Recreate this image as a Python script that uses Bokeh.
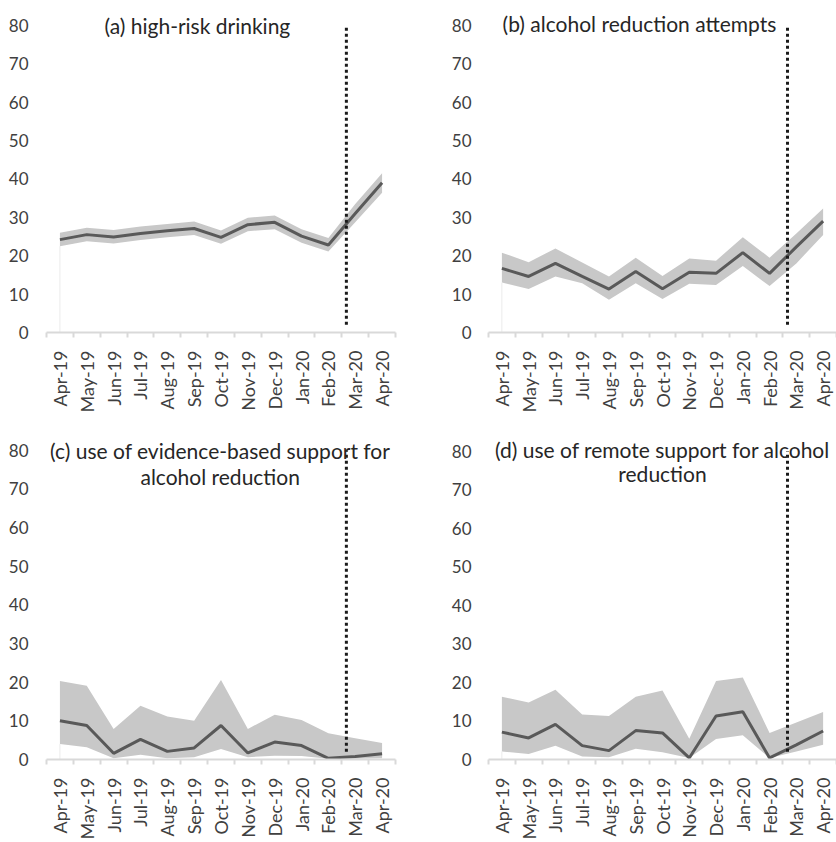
import math
from bokeh.plotting import figure
from bokeh.models import FixedTicker, Label, Range1d
from bokeh.layouts import column, row
from bokeh.embed import file_html
from bokeh.resources import INLINE

months = ["Apr-19", "May-19", "Jun-19", "Jul-19", "Aug-19", "Sep-19", "Oct-19",
          "Nov-19", "Dec-19", "Jan-20", "Feb-20", "Mar-20", "Apr-20"]
y_ticks = [0, 10, 20, 30, 40, 50, 60, 70, 80]

# (a) high-risk drinking
a_mid = [24.2, 25.5, 24.9, 25.8, 26.5, 27.1, 24.8, 28.1, 28.7, 25.1, 22.8, 31.0, 39.0]
a_low = [22.5, 23.8, 23.2, 24.1, 24.8, 25.4, 23.1, 26.4, 26.9, 23.4, 21.1, 28.7, 36.4]
a_high = [26.0, 27.3, 26.7, 27.6, 28.3, 28.9, 26.6, 29.9, 30.5, 26.9, 24.6, 33.5, 41.5]

# (b) alcohol reduction attempts
b_mid = [16.7, 14.6, 18.0, 14.6, 11.3, 15.9, 11.4, 15.7, 15.4, 20.8, 15.4, 22.3, 29.0]
b_low = [13.0, 11.3, 14.6, 12.8, 8.5, 12.8, 8.7, 12.7, 12.4, 17.3, 12.1, 18.0, 25.4]
b_high = [20.8, 18.3, 21.9, 18.2, 14.6, 19.5, 14.7, 19.3, 18.7, 24.8, 19.5, 25.8, 32.3]

# (c) use of evidence-based support for alcohol reduction
c_mid = [10.0, 8.8, 1.6, 5.2, 2.1, 3.0, 8.8, 1.7, 4.5, 3.6, 0.3, 0.8, 1.5]
c_low = [4.0, 3.2, 0.3, 1.2, 0.3, 0.6, 2.7, 0.6, 1.0, 0.9, 0.2, 0.2, 0.3]
c_high = [20.3, 19.1, 7.9, 13.9, 11.1, 10.0, 20.6, 7.9, 11.6, 10.2, 6.8, 5.5, 4.3]

# (d) use of remote support for alcohol reduction
d_mid = [7.1, 5.6, 9.1, 3.6, 2.3, 7.5, 6.9, 0.4, 11.3, 12.4, 0.4, 3.8, 7.4]
d_low = [2.1, 1.4, 3.6, 0.8, 0.6, 2.8, 1.9, 0.4, 5.3, 6.3, 0.4, 2.1, 3.8]
d_high = [16.3, 14.8, 18.1, 11.7, 11.3, 16.3, 17.9, 5.4, 20.4, 21.3, 6.9, 9.6, 12.3]

lockdown_x = 10.67   # between Feb-20 and Mar-20
lockdown_y = [2, 80]

FONT = "Lato"
TEXT = "#404040"
AXIS = "#d9d9d9"
BAND = "#c8c8c8"
LINE = "#595959"


def panel(title_lines, title_pos, mid, low, high, width, height,
          bl, br, bb, ytop, ystand):
    xs = list(range(len(months)))
    p = figure(width=width, height=height, output_backend="svg",
               toolbar_location=None, x_range=Range1d(-0.5, len(months) - 0.5),
               y_range=Range1d(0, ytop), min_border_left=bl, min_border_right=br,
               min_border_top=0, min_border_bottom=bb)
    p.outline_line_color = None
    p.xgrid.visible = False
    p.ygrid.visible = False
    p.background_fill_color = "white"
    p.border_fill_color = "white"

    p.varea(x=xs, y1=low, y2=high, fill_color=BAND)
    p.segment(x0=[xs[0]], y0=[0], x1=[xs[0]], y1=[low[0]], line_color="#ebebeb", line_width=1)
    p.line(xs, mid, line_color=LINE, line_width=3)
    p.line([lockdown_x, lockdown_x], lockdown_y, line_color="#1a1a1a",
           line_width=3, line_dash="3 3")

    xa = p.xaxis[0]
    xa.ticker = FixedTicker(ticks=xs, minor_ticks=[i - 0.5 for i in range(len(months) + 1)])
    xa.major_label_overrides = {i: m for i, m in enumerate(months)}
    xa.major_label_orientation = math.pi / 2
    xa.major_tick_line_color = None
    xa.major_tick_out = 0
    xa.major_tick_in = 0
    xa.minor_tick_line_color = AXIS
    xa.minor_tick_line_width = 2
    xa.minor_tick_out = 5
    xa.minor_tick_in = 0
    xa.axis_line_color = AXIS
    xa.axis_line_width = 2
    xa.major_label_standoff = 13
    xa.major_label_text_font = FONT
    xa.major_label_text_font_size = "18px"
    xa.major_label_text_color = TEXT

    ya = p.yaxis[0]
    ya.ticker = FixedTicker(ticks=y_ticks)
    ya.axis_line_color = None
    ya.major_tick_line_color = None
    ya.minor_tick_line_color = None
    ya.major_tick_out = 0
    ya.major_label_standoff = ystand
    ya.major_label_text_font = FONT
    ya.major_label_text_font_size = "17px"
    ya.major_label_text_color = TEXT

    for line_text, (tx, ty) in zip(title_lines, title_pos):
        p.add_layout(Label(x=tx, y=ty, text=line_text, text_align="center",
                           text_baseline="middle", text_font=FONT,
                           text_font_size="21px", text_color="#262626"))
    return p


pa = panel(["(a) high-risk drinking"], [(5.12, 80)], a_mid, a_low, a_high,
           418, 418, 46, 23, 86, 86.5, 18)
pb = panel(["(b) alcohol reduction attempts"], [(5.14, 80.5)], b_mid, b_low, b_high,
           418, 418, 70, 0, 84, 86.47, 17)
pc = panel(["(c) use of evidence-based support for", "alcohol reduction"],
           [(5.97, 80), (5.97, 73.3)], c_mid, c_low, c_high,
           418, 424, 46, 23, 81, 88.23, 18)
pd = panel(["(d) use of remote support for alcohol", "reduction"],
           [(6.0, 80.5), (6.0, 74.2)], d_mid, d_low, d_high,
           418, 424, 70, 0, 70, 88.5, 17)

layout = column(row(pa, pb), row(pc, pd))
open("out.html", "w").write(file_html(layout, INLINE))
